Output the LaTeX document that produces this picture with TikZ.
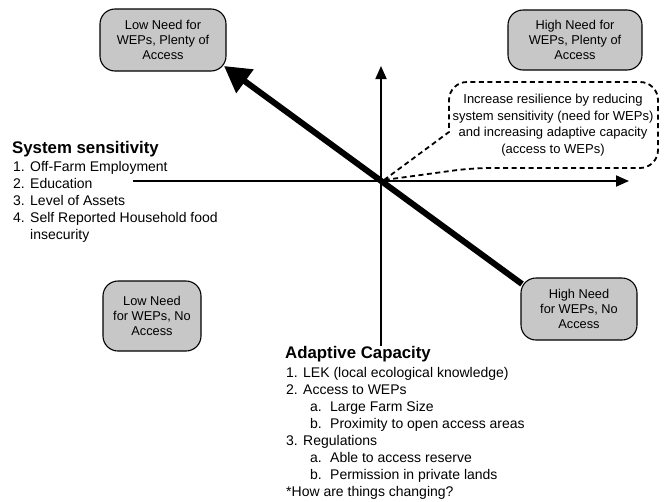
\documentclass[tikz,border=0pt]{standalone}
\usepackage{fontspec}
\setmainfont{Liberation Sans}
\usetikzlibrary{arrows.meta}
\begin{document}
\begin{tikzpicture}[x=1pt,y=-1pt,
  quad/.style={draw=black, line width=1.1pt, fill=black!22, rounded corners=15pt, align=center,
    font=\fontsize{12.8}{15}\selectfont, inner sep=0pt},
  axis/.style={line width=1.8pt, -{Triangle[length=13pt,width=11pt]}},
  listtext/.style={anchor=north west, align=left, inner sep=0pt, font=\fontsize{14}{17}\selectfont},
  ttl/.style={anchor=west, inner sep=0pt, font=\bfseries\fontsize{16.8}{18}\selectfont}]
\useasboundingbox (0,0) rectangle (664,501);
% quadrant boxes
\node[quad, minimum width=126pt, minimum height=62pt] (q1) at (163,40) {Low Need for\\WEPs, Plenty of\\Access};
\node[quad, minimum width=134pt, minimum height=60pt] (q2) at (575,40) {High Need for\\WEPs, Plenty of\\Access};
\node[quad, minimum width=98pt, minimum height=70pt] (q3) at (152,316) {Low Need\\for WEPs, No\\Access};
\node[quad, minimum width=116pt, minimum height=62pt] (q4) at (579,309) {High Need\\for WEPs, No\\Access};
% axes
\coordinate (o) at (381,181);
\coordinate (vb) at (381,346);
\coordinate (vt) at (381,66);
\coordinate (hl) at (133,181);
\coordinate (hr) at (629,181);
\draw[axis] (vb) -- (vt);
\draw[axis] (hl) -- (hr);
% thick arrow
\coordinate (ts) at (522,284);
\coordinate (te) at (224,66);
\draw[line width=6pt, -{Triangle[length=26pt,width=28pt]}] (ts) -- (te);
% callout
\coordinate (c1) at (449,132);
\coordinate (c2) at (449,82);
\coordinate (c3) at (658,82);
\coordinate (c4) at (658,168);
\coordinate (c5) at (472,168);
\coordinate (ct) at (384,180);
\draw[line width=1.8pt, dash pattern=on 5pt off 3.5pt] (ct) -- (c1) [rounded corners=18pt] -- (c2) -- (c3) -- (c4) -- (c5) [sharp corners] -- (ct);
\node[align=center, inner sep=0pt, font=\fontsize{13}{16.7}\selectfont] (ctext) at (553,125)
  {Increase resilience by reducing\\system sensitivity (need for WEPs)\\and increasing adaptive capacity\\(access to WEPs)};
% system sensitivity
\node[ttl] (sst) at (12,149) {System sensitivity};
\node[listtext] (ssl) at (13,161) {%
  \makebox[17pt][l]{1.}Off-Farm Employment\\
  \makebox[17pt][l]{2.}Education\\
  \makebox[17pt][l]{3.}Level of Assets\\
  \makebox[17pt][l]{4.}Self Reported Household food\\
  \hspace*{17pt}insecurity};
% adaptive capacity
\node[ttl] (act) at (285,354) {Adaptive Capacity};
\node[listtext] (acl) at (286,367) {%
  \makebox[17pt][l]{1.}LEK (local ecological knowledge)\\
  \makebox[17pt][l]{2.}Access to WEPs\\
  \hspace*{24pt}\makebox[20pt][l]{a.}Large Farm Size\\
  \hspace*{24pt}\makebox[20pt][l]{b.}Proximity to open access areas\\
  \makebox[17pt][l]{3.}Regulations\\
  \hspace*{24pt}\makebox[20pt][l]{a.}Able to access reserve\\
  \hspace*{24pt}\makebox[20pt][l]{b.}Permission in private lands\\
  *How are things changing?};
\end{tikzpicture}
\end{document}
